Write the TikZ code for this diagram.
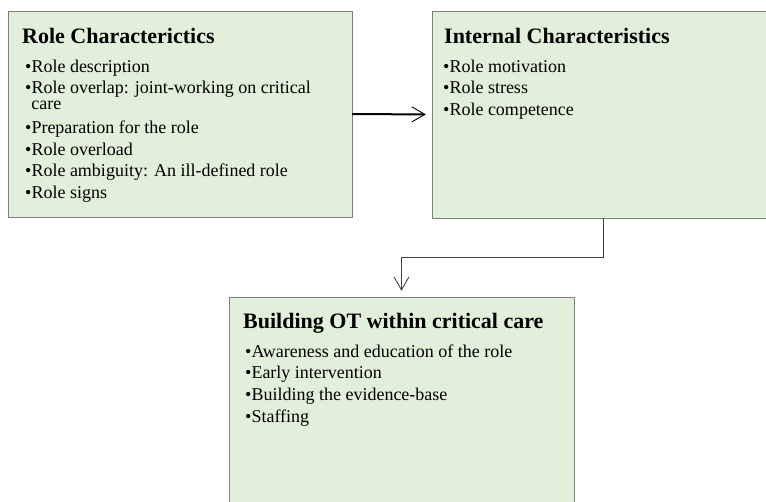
\documentclass[tikz,border=0pt]{standalone}
\usepackage{fontspec}
\setmainfont{Liberation Serif}
\usetikzlibrary{arrows.meta}
\definecolor{boxfill}{RGB}{226,239,218}
\definecolor{boxline}{RGB}{128,128,128}
\definecolor{elbowline}{RGB}{64,64,64}
\begin{document}
\begin{tikzpicture}[x=1pt,y=-1pt,
  box/.style={draw=boxline,fill=boxfill,line width=0.9pt,inner sep=0pt},
  ttl/.style={anchor=base west,inner sep=0pt,font=\fontsize{22}{26}\selectfont\bfseries},
  itm/.style={anchor=base west,inner sep=0pt,font=\fontsize{18}{21}\selectfont},
  tip/.style={-{Straight Barb[length=13pt,width=15pt,line width=0.9pt]}}]
\useasboundingbox (0,0) rectangle (766,501);
\clip (0,0) rectangle (766,501);
% boxes
\path[box] (8,11) rectangle (352,217);
\node[inner sep=0pt,minimum width=344pt,minimum height=206pt] (b1) at (180,114) {};
\path[box] (432,11) rectangle (774,218);
\node[inner sep=0pt,minimum width=342pt,minimum height=207pt] (b2) at (603,114.5) {};
\path[box] (229,297) rectangle (574,515);
\node[inner sep=0pt,minimum width=345pt,minimum height=218pt] (b3) at (401.5,406) {};
% box 1 text
\node[ttl] (t1) at (22,43) {Role Characterictics};
\node[itm] (a1) at (25,72) {\textbullet Role description};
\node[itm] (a2) at (25,93) {\vtop{\baselineskip=16pt\lineskiplimit=-20pt
  \hbox{\textbullet Role overlap: joint-working on critical}
  \hbox{\hspace*{6.3pt}care}}};
\node[itm] (a3) at (25,133) {\textbullet Preparation for the role};
\node[itm] (a4) at (25,155) {\textbullet Role overload};
\node[itm] (a5) at (25,176.5) {\textbullet Role ambiguity: An ill-defined role};
\node[itm] (a6) at (25,198) {\textbullet Role signs};
% box 2 text
\node[ttl] (t2) at (444,43) {Internal Characteristics};
\node[itm] (c1) at (443,72) {\textbullet Role motivation};
\node[itm] (c2) at (443,93.5) {\textbullet Role stress};
\node[itm] (c3) at (443,115) {\textbullet Role competence};
% box 3 text
\node[ttl] (t3) at (243,328.5) {Building OT within critical care};
\node[itm] (d1) at (245,357) {\textbullet Awareness and education of the role};
\node[itm] (d2) at (245,378.5) {\textbullet Early intervention};
\node[itm] (d3) at (245,400) {\textbullet Building the evidence-base};
\node[itm] (d4) at (245,422.5) {\textbullet Staffing};
% connectors
\draw[tip,line width=2pt,shorten >=6pt] (b1.east) -- (b2.west);
\draw[tip,draw=elbowline,line width=1pt,shorten >=6pt] (b2.south) -- ++(0,39) -| (b3.north);
\end{tikzpicture}
\end{document}
